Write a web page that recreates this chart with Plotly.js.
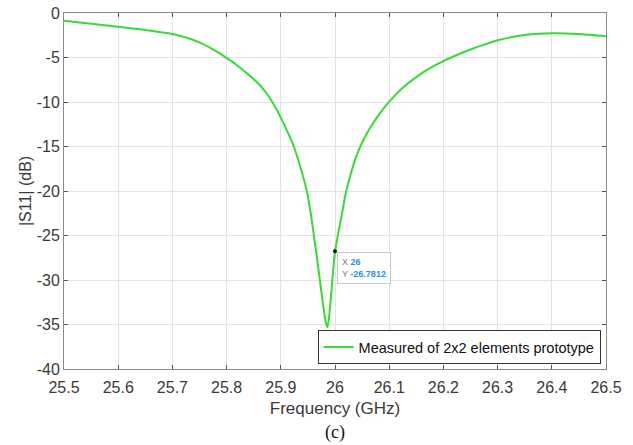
<!DOCTYPE html>
<html>
<head>
<meta charset="utf-8">
<script src="https://cdn.plot.ly/plotly-3.0.1.min.js"></script>
<style>html,body{margin:0;padding:0;background:#fff;}#chart{width:633px;height:445px;}</style>
</head>
<body>
<div id="chart"></div>
<script>
const freqGHz = [25.50,25.55,25.60,25.65,25.70,25.725,25.75,25.775,25.80,25.825,25.85,25.865,25.877,25.89,25.90,25.912,25.924,25.936,25.948,25.955,25.961,25.967,25.972,25.977,25.981,25.984,25.986,25.989,25.993,25.997,26.000,26.004,26.009,26.014,26.020,26.030,26.038,26.046,26.055,26.065,26.080,26.100,26.125,26.150,26.175,26.200,26.225,26.250,26.275,26.300,26.325,26.350,26.375,26.400,26.425,26.450,26.475,26.500];
const s11dB = [-0.87,-1.2,-1.55,-1.9,-2.35,-2.75,-3.3,-4.1,-5.05,-6.15,-7.45,-8.35,-9.3,-10.6,-11.75,-13.3,-15.0,-17.3,-20.0,-22.4,-25.0,-27.6,-30.0,-32.3,-34.0,-35.0,-35.3,-34.2,-31.5,-28.6,-26.78,-25.4,-23.75,-22.2,-20.2,-17.9,-16.3,-15.1,-13.95,-12.9,-11.5,-9.95,-8.4,-7.2,-6.2,-5.4,-4.72,-4.1,-3.55,-3.07,-2.72,-2.48,-2.34,-2.28,-2.29,-2.35,-2.46,-2.6];
const seriesName = 'Measured of 2x2 elements prototype';
const xTickVals = [25.5,25.6,25.7,25.8,25.9,26.0,26.1,26.2,26.3,26.4,26.5];
const xTickText = ['25.5','25.6','25.7','25.8','25.9','26','26.1','26.2','26.3','26.4','26.5'];
const yTickVals = [0,-5,-10,-15,-20,-25,-30,-35,-40];
const yTickText = ['0','-5','-10','-15','-20','-25','-30','-35','-40'];
const tipX = 26.0, tipY = -26.7812;

const axisCommon = {
  showline: true, linecolor: '#8a8a8a', linewidth: 1, mirror: 'ticks',
  ticks: 'inside', ticklen: 4, tickcolor: '#555', tickwidth: 1,
  showgrid: true, gridcolor: '#e3e3e3', gridwidth: 1, zeroline: false,
  tickfont: {family: 'Liberation Sans, Arial, sans-serif', size: 16, color: '#3a3a3a'}
};

const traces = [
  {x: freqGHz, y: s11dB, type: 'scatter', mode: 'lines', name: seriesName,
   line: {color: '#33dd33', width: 2, shape: 'spline', smoothing: 0.8}},
  {x: [tipX], y: [tipY], type: 'scatter', mode: 'markers', showlegend: false,
   marker: {color: '#111', size: 4}}
];

const layout = {
  width: 633, height: 445,
  margin: {l: 64, r: 27, t: 13, b: 76},
  paper_bgcolor: '#fff', plot_bgcolor: '#fff',
  showlegend: true,
  legend: {x: 0.99, y: 0.014, xanchor: 'right', yanchor: 'bottom',
    bgcolor: '#fff', bordercolor: '#333', borderwidth: 1,
    font: {family: 'Liberation Sans, Arial, sans-serif', size: 14.5, color: '#111'},
    itemwidth: 30, tracegroupgap: 0},
  xaxis: Object.assign({}, axisCommon, {
    range: [25.5, 26.5], tickvals: xTickVals, ticktext: xTickText, ticklabelstandoff: 4,
    title: {text: 'Frequency (GHz)', font: {family: 'Liberation Sans, Arial, sans-serif', size: 17, color: '#3a3a3a'}, standoff: 6}
  }),
  yaxis: Object.assign({}, axisCommon, {
    range: [-40, 0], tickvals: yTickVals, ticktext: yTickText,
    title: {text: '|S11| (dB)', font: {family: 'Liberation Sans, Arial, sans-serif', size: 16, color: '#3a3a3a'}, standoff: 1}
  }),
  annotations: [
    {x: tipX, y: tipY, xref: 'x', yref: 'y', showarrow: false,
     xanchor: 'left', yanchor: 'top', xshift: 2, yshift: -1, align: 'left',
     text: "<span style='color:#777'>X</span> <b style='color:#2f8fd8'>26</b><br><span style='color:#777'>Y</span> <b style='color:#2f8fd8'>-26.7812</b>",
     font: {family: 'Liberation Sans, Arial, sans-serif', size: 9},
     bgcolor: 'rgba(255,255,255,0.95)', bordercolor: '#c9c9c9', borderwidth: 1, borderpad: 4},
    {x: 0.5, y: 0, xref: 'paper', yref: 'paper', showarrow: false, yanchor: 'middle', yshift: -63,
     text: '(c)', font: {family: 'Liberation Serif, Times New Roman, serif', size: 18, color: '#111'}}
  ]
};

Plotly.newPlot('chart', traces, layout, {displayModeBar: false, staticPlot: true});
</script>
</body>
</html>
